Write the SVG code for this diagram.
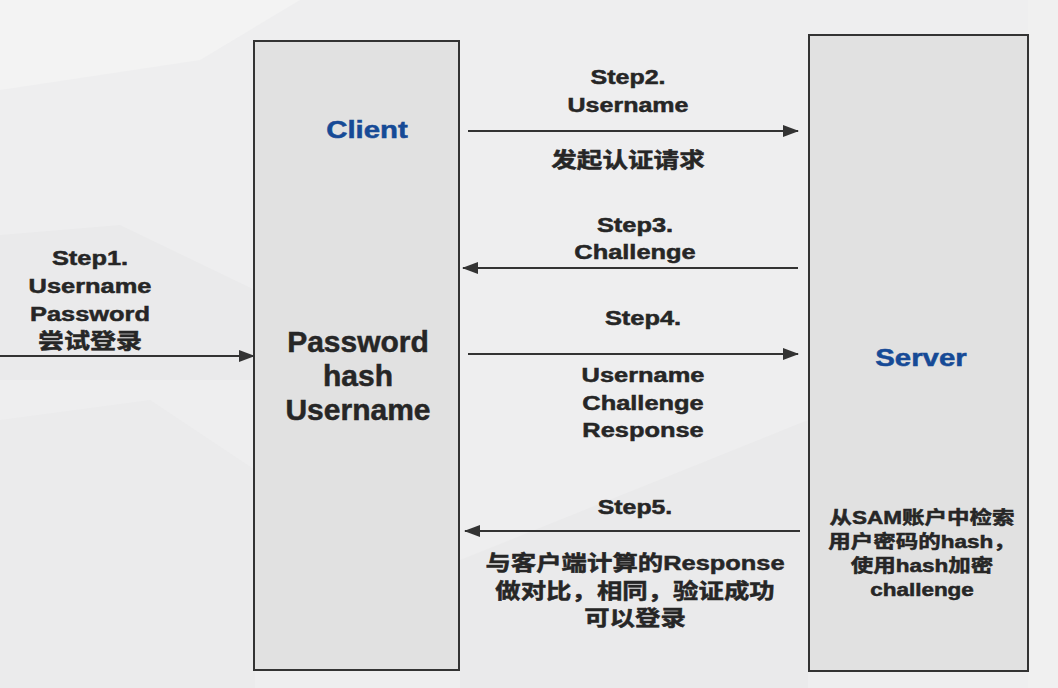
<svg xmlns="http://www.w3.org/2000/svg" width="1058" height="688" viewBox="0 0 1058 688">
<style>
.box{fill:#e1e1e1;stroke:#333;stroke-width:2}
.t{font-family:"Liberation Sans","Noto Sans CJK SC",Arial,sans-serif;font-weight:bold;fill:#262626;text-anchor:middle;stroke:#262626;stroke-width:0.5}
.s{font-size:20.5px}
.c{font-size:21px}
.big{font-size:30px}
.blue{fill:#164a96;stroke:#164a96;font-size:23.5px}
.sv{font-size:18px}
.ln{stroke:#333;stroke-width:2;fill:none}
</style>
<defs>
<marker id="ah" markerUnits="userSpaceOnUse" markerWidth="16" markerHeight="12" refX="15" refY="6" orient="auto">
<path d="M0,0 L16,6 L0,12 z" fill="#333"/>
</marker>
</defs>
<rect width="1058" height="688" fill="#eeeeef"/>
<polygon points="0,0 300,0 200,60 0,90" fill="#f3f3f3"/>
<polygon points="0,235 120,225 255,290 255,380 0,380" fill="#eaeaeb"/>
<polygon points="0,420 150,400 255,470 255,688 0,688" fill="#ebebec"/>
<polygon points="460,560 808,420 808,688 460,688" fill="#eaeaeb"/>
<polygon points="1028,0 1058,0 1058,688 1028,688" fill="#f0f0f0"/>

<g id="client">
<rect class="box" x="254" y="41" width="205" height="629"/>
<g transform="translate(367,0) scale(1.25,1)"><text class="t blue" x="0" y="138">Client</text></g>
<text class="t big" x="358" y="352">Password</text>
<text class="t big" x="358" y="386">hash</text>
<text class="t big" x="358" y="420">Username</text>
</g>

<g id="server">
<rect class="box" x="809" y="35" width="219" height="636"/>
<g transform="translate(921,0) scale(1.25,1)"><text class="t blue" x="0" y="366">Server</text></g>
<g transform="translate(922,0) scale(1.25,1)">
<text class="t sv" x="0" y="524">从SAM账户中检索</text>
<text class="t sv" x="0" y="548">用户密码的hash，</text>
<text class="t sv" x="0" y="572">使用hash加密</text>
<text class="t sv" x="0" y="596">challenge</text>
</g>
</g>

<g id="connectors">
<line class="ln" x1="0" y1="356" x2="254" y2="356" marker-end="url(#ah)"/>
<line class="ln" x1="468" y1="131" x2="798" y2="131" marker-end="url(#ah)"/>
<line class="ln" x1="798" y1="268" x2="463" y2="268" marker-end="url(#ah)"/>
<line class="ln" x1="468" y1="354" x2="798" y2="354" marker-end="url(#ah)"/>
<line class="ln" x1="800" y1="531" x2="465" y2="531" marker-end="url(#ah)"/>
</g>

<g id="labels">
<g transform="translate(90,0) scale(1.24,1)">
<text class="t s" x="0" y="265">Step1.</text>
<text class="t s" x="0" y="293">Username</text>
<text class="t s" x="0" y="321">Password</text>
<text class="t c" x="0" y="348">尝试登录</text>
</g>
<g transform="translate(628,0) scale(1.22,1)">
<text class="t s" x="0" y="84">Step2.</text>
<text class="t s" x="0" y="112">Username</text>
<text class="t c" x="0" y="167">发起认证请求</text>
</g>
<g transform="translate(635,0) scale(1.24,1)">
<text class="t s" x="0" y="232">Step3.</text>
<text class="t s" x="0" y="259">Challenge</text>
</g>
<g transform="translate(643,0) scale(1.24,1)">
<text class="t s" x="0" y="325">Step4.</text>
<text class="t s" x="0" y="382">Username</text>
<text class="t s" x="0" y="410">Challenge</text>
<text class="t s" x="0" y="437">Response</text>
</g>
<g transform="translate(635,0) scale(1.21,1)">
<text class="t s" x="0" y="514">Step5.</text>
<text class="t c" x="0" y="570">与客户端计算的Response</text>
<text class="t c" x="0" y="598">做对比，相同，验证成功</text>
<text class="t c" x="0" y="625">可以登录</text>
</g>
</g>
</svg>
